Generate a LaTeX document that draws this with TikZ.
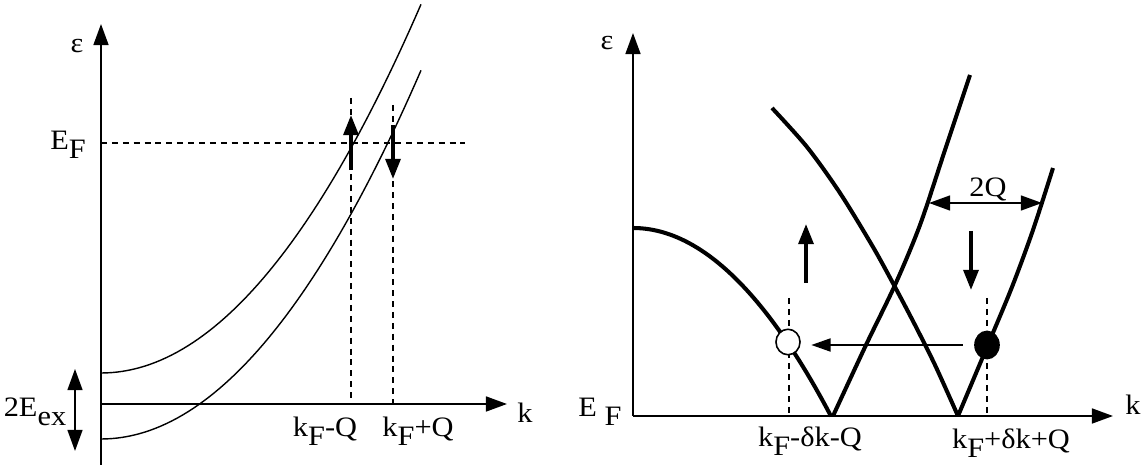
\documentclass[tikz,border=0pt]{standalone}
\usepackage{fontspec}
\setmainfont{Liberation Serif}[FakeStretch=1.08]
\usepackage{tikz}
\usetikzlibrary{arrows.meta, shapes.geometric}

\newcommand{\lowsub}[1]{\raisebox{-0.3em}{#1}}

\begin{document}
\begin{tikzpicture}[x=0.02cm, y=-0.02cm,
  axis/.style={line width=1.1pt, -{Triangle[length=12pt,width=8.5pt]}},
  guide/.style={line width=0.9pt, dash pattern=on 3.4pt off 2.8pt},
  curve/.style={line width=0.8pt},
  band/.style={line width=2.3pt, line join=round},
  spin/.style={line width=2.1pt, -{Triangle[length=11.5pt,width=8.5pt]}},
  span/.style={line width=0.9pt, {Triangle[length=12pt,width=8.5pt]}-{Triangle[length=12pt,width=8.5pt]}},
  lbl/.style={inner sep=0pt, anchor=base, font=\fontsize{16}{18}\selectfont}]

  \useasboundingbox (0,0) rectangle (1144,465);

  % Left panel: exchange split bands
  \coordinate (oL) at (101,404);
  \draw[axis] (101,465) -- (101,24);
  \draw[axis] (oL) -- (507,404);
  \node[lbl] (epsL) at (77,53) {ε};
  \node[lbl] (kL) at (525,423) {k};
  \node[lbl] (efL) at (68,150) {E\lowsub{F}};

  \draw[guide] (101,143) -- (465,143);
  \draw[guide] (351,98) -- (351,404);
  \draw[guide] (393,105) -- (393,404);

  \draw[curve] plot[domain=101:421, samples=60] (\x,{373-36*((\x-101)/100)^2});
  \draw[curve] plot[domain=101:421, samples=60] (\x,{439-36*((\x-101)/100)^2});

  \draw[spin] (351,170) -- (351,115);
  \draw[spin] (393,125) -- (393,179);

  \draw[span] (75,369) -- (75,451);
  \node[lbl] (exL) at (35,417) {2E\lowsub{ex}};
  \node[lbl] (kmQ) at (325,437) {k\lowsub{F}-Q};
  \node[lbl] (kpQ) at (418,437) {k\lowsub{F}+Q};

  % Right panel: excitation spectrum
  \coordinate (oR) at (633,416);
  \draw[axis] (oR) -- (633,33);
  \draw[axis] (oR) -- (1113,416);
  \node[lbl] (epsR) at (607,50) {ε};
  \node[lbl] (kR) at (1133,415) {k};
  \node[lbl] (efR) at (600,417) {E \lowsub{F}};

  \draw[guide] (789,298) -- (789,416);
  \draw[guide] (987,298) -- (987,416);

  \draw[band] plot[domain=633:831, samples=50] (\x,{228+48*((\x-633)/100)^2});
  \draw[band] plot[smooth] coordinates {(833,416) (866,345) (895,285) (920,225) (945,150) (970,75)};
  \draw[band] plot[smooth] coordinates {(772,108) (807,147) (840,193) (873,247) (895,287) (915,325) (935,365) (958,416)};
  \draw[band] plot[smooth] coordinates {(958,416) (987,347) (1012,287) (1033,230) (1053,168)};

  \draw[spin] (806,283) -- (806,224);
  \draw[spin] (971,231) -- (971,290);

  \draw[span] (929,203) -- (1042,203);
  \node[lbl] (twoQ) at (988,197) {2Q};

  \node[ellipse, draw, line width=0.9pt, fill=white, minimum width=13.7pt, minimum height=14.5pt, inner sep=0pt] (hole) at (788,342) {};
  \node[ellipse, draw, line width=0.9pt, fill=black, minimum width=13.7pt, minimum height=15.5pt, inner sep=0pt] (elec) at (987,345) {};
  \draw[line width=0.9pt, -{Triangle[length=11pt,width=7.5pt]}, shorten <=6.5pt, shorten >=6pt] (elec.west) -- (hole.east |- elec.west);

  \node[lbl] (kmdQ) at (810,447) {k\lowsub{F}-δk-Q};
  \node[lbl] (kpdQ) at (1011,449) {k\lowsub{F}+δk+Q};

\end{tikzpicture}
\end{document}
